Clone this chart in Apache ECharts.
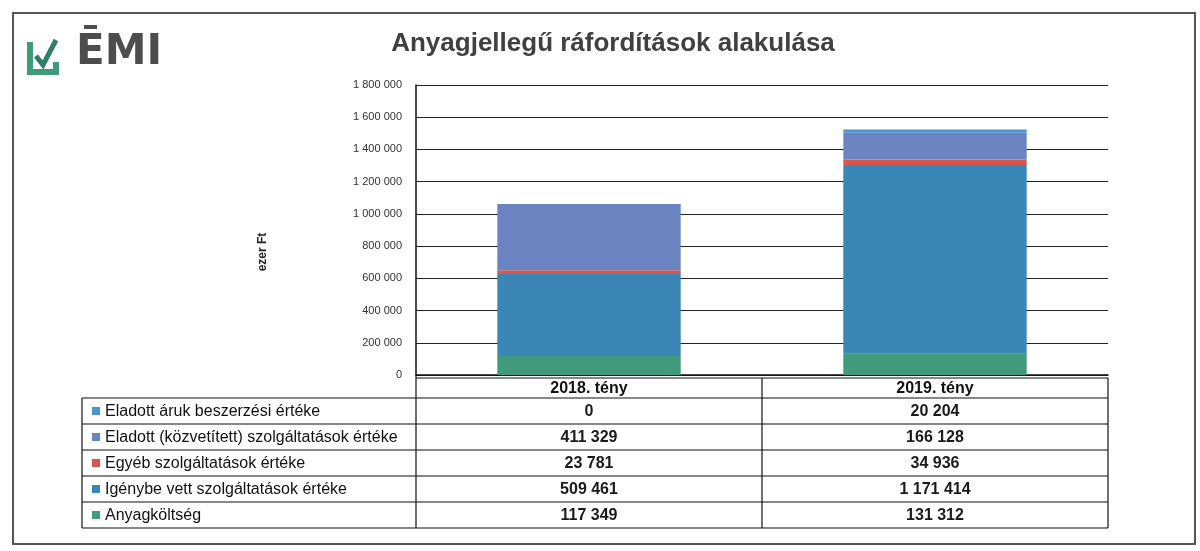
<!DOCTYPE html>
<html>
<head>
<meta charset="utf-8">
<script src="https://cdn.jsdelivr.net/npm/echarts@6/dist/echarts.min.js"></script>
<style>
  html, body { margin: 0; padding: 0; background: #fff; }
  #main { width: 1200px; height: 551px; }
</style>
</head>
<body>
<div id="main"></div>
<script>
var years = ['2018. tény', '2019. tény'];
var anyagkoltseg = [117349, 131312];
var igenybeVett = [509461, 1171414];
var egyeb = [23781, 34936];
var kozvetitett = [411329, 166128];
var eladottAruk = [0, 20204];

// stacked bottom -> top
var series = [
  { name: 'Anyagköltség', data: anyagkoltseg, color: '#429a7c' },
  { name: 'Igénybe vett szolgáltatások értéke', data: igenybeVett, color: '#3a86b6' },
  { name: 'Egyéb szolgáltatások értéke', data: egyeb, color: '#d6574f' },
  { name: 'Eladott (közvetített) szolgáltatások értéke', data: kozvetitett, color: '#6a84c2' },
  { name: 'Eladott áruk beszerzési értéke', data: eladottAruk, color: '#4b95d0' }
];

var FONT = 'Liberation Sans';

function fmt(n) {
  return String(n).replace(/\B(?=(\d{3})+(?!\d))/g, ' ');
}

var chart = echarts.init(document.getElementById('main'));

var gridLeft = 416, gridRight = 92, gridTop = 85, gridBottom = 176;

chart.setOption({
  animation: false,
  textStyle: { fontFamily: FONT },
  title: {
    text: 'Anyagjellegű ráfordítások alakulása',
    left: 608, top: 26, textAlign: 'center',
    textStyle: { fontSize: 26, fontWeight: 'bold', color: '#404040', fontFamily: FONT }
  },
  grid: { left: gridLeft, right: gridRight, top: gridTop, bottom: gridBottom },
  xAxis: {
    type: 'category',
    data: years,
    axisTick: { show: false },
    axisLine: { lineStyle: { color: '#111', width: 1.5 } },
    axisLabel: { fontSize: 16, fontWeight: 'bold', color: '#111', margin: 6 }
  },
  yAxis: {
    type: 'value',
    min: 0, max: 1800000, interval: 200000,
    axisLine: { show: true, lineStyle: { color: '#111', width: 1.5 } },
    axisTick: { show: false },
    splitLine: { lineStyle: { color: '#222', width: 1.2 } },
    axisLabel: { fontSize: 11, color: '#333', margin: 14, formatter: function (v) { return fmt(v); } }
  },
  series: series.map(function (s) {
    return {
      name: s.name, type: 'bar', stack: 'total', data: s.data,
      barCategoryGap: '47%',
      itemStyle: { color: s.color }
    };
  })
});

function buildTable() {
  var rowTop = 398, rowH = 26;
  var leftX = 82, axisX = gridLeft, rightX = 1200 - gridRight;
  var bottomY = 551 - gridBottom;
  var centers = years.map(function (y, i) { return chart.convertToPixel({ xAxisIndex: 0 }, i); });
  var midX = (axisX + rightX) / 2;
  var rows = series.slice().reverse();
  var tableBottom = rowTop + rowH * rows.length;
  var g = [];
  var line = { stroke: '#111', lineWidth: 1.2 };

  // logo
  g.push({ type: 'polyline', shape: { points: [[30, 42], [30, 72], [56, 72], [56, 62]] }, style: { stroke: '#3f9a7a', lineWidth: 6, fill: null } });
  g.push({ type: 'polyline', shape: { points: [[36, 56], [43, 65], [56, 40]] }, style: { stroke: '#2f7f68', lineWidth: 5, fill: null } });
  g.push({ type: 'text', left: 76, top: 32, style: { text: 'ĒMI', fontSize: 42, fontWeight: 'bold', fill: '#4d4d4d', fontFamily: 'DejaVu Sans' } });

  // frame
  g.push({ type: 'rect', shape: { x: 13, y: 13, width: 1182, height: 531 }, style: { stroke: '#555', lineWidth: 2, fill: null } });

  // y axis title
  g.push({ type: 'text', x: 263, y: 252, rotation: Math.PI / 2, style: { text: 'ezer Ft', fontSize: 12, fontWeight: 'bold', fill: '#222', fontFamily: FONT, align: 'center', verticalAlign: 'middle' } });

  // table lines
  g.push({ type: 'line', shape: { x1: axisX, y1: bottomY, x2: axisX, y2: tableBottom }, style: line });
  g.push({ type: 'line', shape: { x1: midX, y1: bottomY + 3, x2: midX, y2: tableBottom }, style: line });
  g.push({ type: 'line', shape: { x1: rightX, y1: bottomY + 3, x2: rightX, y2: tableBottom }, style: line });
  g.push({ type: 'line', shape: { x1: axisX, y1: bottomY + 3, x2: rightX, y2: bottomY + 3 }, style: line });
  g.push({ type: 'line', shape: { x1: leftX, y1: rowTop, x2: leftX, y2: tableBottom }, style: line });
  for (var r = 0; r <= rows.length; r++) {
    g.push({ type: 'line', shape: { x1: leftX, y1: rowTop + r * rowH, x2: rightX, y2: rowTop + r * rowH }, style: line });
  }

  rows.forEach(function (s, r) {
    var cy = rowTop + r * rowH + rowH / 2;
    g.push({ type: 'rect', shape: { x: leftX + 10, y: cy - 4, width: 8, height: 8 }, style: { fill: s.color } });
    g.push({ type: 'text', x: leftX + 23, y: cy + 1, style: { text: s.name, fontSize: 16, fill: '#111', fontFamily: FONT, verticalAlign: 'middle' } });
    s.data.forEach(function (v, i) {
      g.push({ type: 'text', x: centers[i], y: cy + 1, style: { text: fmt(v), fontSize: 16, fontWeight: 'bold', fill: '#1a1a1a', fontFamily: FONT, align: 'center', verticalAlign: 'middle' } });
    });
  });
  chart.setOption({ graphic: g });
}
buildTable();
</script>
</body>
</html>
